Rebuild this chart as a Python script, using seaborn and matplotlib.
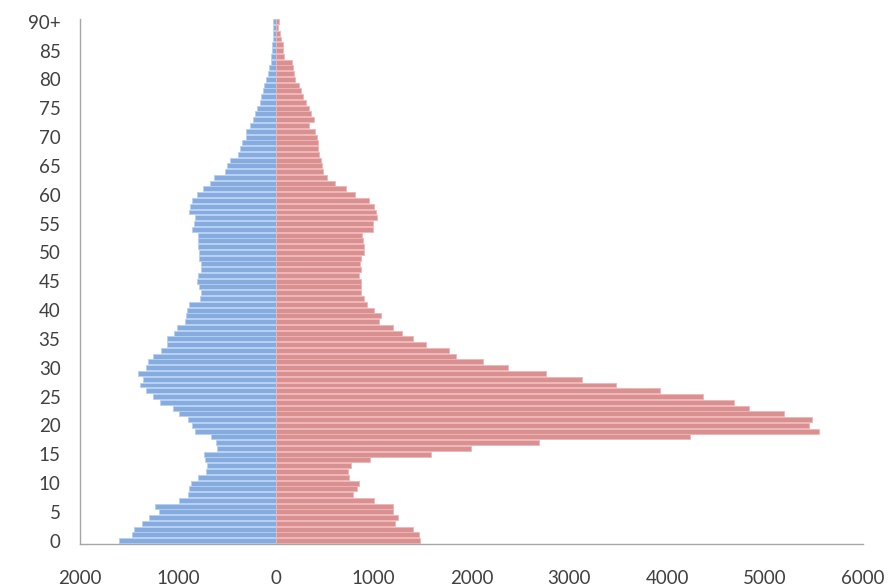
import matplotlib
matplotlib.use("Agg")
import matplotlib.pyplot as plt
import seaborn as sns
import pandas as pd
import numpy as np

ages = list(range(0, 91))

male = [1600, 1470, 1450, 1365, 1295, 1195, 1230, 985, 895, 885,
        865, 795, 710, 705, 720, 735, 600, 615, 665, 830,
        860, 895, 985, 1045, 1180, 1250, 1330, 1385, 1360, 1410,
        1330, 1310, 1250, 1170, 1115, 1110, 1040, 1010, 930, 920,
        910, 890, 770, 760, 780, 800, 790, 760, 760, 780,
        780, 790, 790, 795, 860, 840, 830, 890, 880, 860,
        800, 745, 668, 635, 523, 498, 472, 384, 362, 340,
        300, 302, 265, 235, 208, 188, 166, 150, 132, 115,
        98, 80, 72, 52, 44, 40, 38, 30, 27, 25, 24]

female = [1475, 1460, 1400, 1222, 1245, 1195, 1195, 1005, 790, 830,
          850, 745, 740, 767, 960, 1590, 1995, 2690, 4235, 5550,
          5450, 5480, 5195, 4840, 4680, 4365, 3925, 3480, 3125, 2760,
          2370, 2120, 1845, 1770, 1540, 1400, 1290, 1200, 1050, 1080,
          1000, 930, 900, 870, 870, 870, 855, 870, 860, 870,
          900, 905, 890, 885, 995, 995, 1030, 1025, 1005, 950,
          805, 718, 610, 525, 483, 476, 462, 445, 433, 428,
          420, 405, 343, 390, 360, 343, 310, 279, 258, 235,
          200, 185, 173, 165, 88, 78, 72, 55, 42, 25, 34]

y_tick_ages = list(range(0, 91, 5))
y_tick_labels = [str(a) for a in range(0, 90, 5)] + ["90+"]
x_ticks = [-2000, -1000, 0, 1000, 2000, 3000, 4000, 5000, 6000]
x_tick_labels = ["2000", "1000", "0", "1000", "2000", "3000", "4000", "5000", "6000"]

df = pd.DataFrame({"age": ages,
                   "male": [-v for v in male],
                   "female": female})

sns.set_theme(style="white")
plt.rcParams["font.family"] = ["Lato", "DejaVu Sans"]

fig = plt.figure(figsize=(8.93, 5.87), dpi=100)
ax = fig.add_axes([80 / 893, (587 - 543.6) / 587, (863 - 80) / 893, (543.6 - 18.8) / 587])

sns.barplot(data=df, x="male", y="age", orient="h", native_scale=True,
            color="#86ABDF", saturation=1, width=0.86, ax=ax,
            edgecolor="#B7D0F2", linewidth=0.6)
sns.barplot(data=df, x="female", y="age", orient="h", native_scale=True,
            color="#D99090", saturation=1, width=0.86, ax=ax,
            edgecolor="#F0B4B4", linewidth=0.6)

ax.set_xlim(-2000, 6000)
ax.set_ylim(-0.5, 90.5)
ax.set_xticks(x_ticks)
ax.set_xticklabels(x_tick_labels)
ax.set_yticks(y_tick_ages)
ax.set_yticklabels(y_tick_labels)
ax.set_xlabel("")
ax.set_ylabel("")

for s in ["top", "right"]:
    ax.spines[s].set_visible(False)
for s in ["left", "bottom"]:
    ax.spines[s].set_color("#A6A6A6")
    ax.spines[s].set_linewidth(1.0)

ax.tick_params(axis="both", which="both", colors="#A6A6A6", labelcolor="#404040",
               labelsize=13.5, length=4, width=1.0, direction="out")
ax.tick_params(axis="x", pad=15)
ax.tick_params(axis="y", pad=10)

fig.savefig("out.png", dpi=100)
